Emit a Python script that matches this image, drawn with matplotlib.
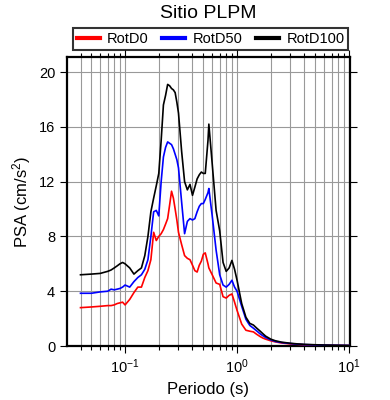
import numpy as np
import matplotlib
matplotlib.use("Agg")
import matplotlib.pyplot as plt
from matplotlib.ticker import LogLocator, MultipleLocator, NullFormatter

plt.rcParams['font.family'] = ['Liberation Sans', 'DejaVu Sans']
plt.rcParams['mathtext.fontset'] = 'custom'
plt.rcParams['mathtext.rm'] = 'Liberation Sans'
plt.rcParams['mathtext.it'] = 'Liberation Sans'

# periods (s)
periodo = [0.04, 0.05, 0.06, 0.07, 0.075, 0.08, 0.085, 0.09, 0.095, 0.10,
           0.11, 0.12, 0.13, 0.14, 0.15, 0.16, 0.17, 0.18, 0.19, 0.20,
           0.21, 0.22, 0.23, 0.24, 0.25, 0.26, 0.27, 0.28, 0.29, 0.30,
           0.32, 0.34, 0.36, 0.38, 0.40, 0.42, 0.44, 0.46, 0.48, 0.50,
           0.52, 0.55, 0.56, 0.60, 0.65, 0.70, 0.75, 0.80, 0.85, 0.90,
           0.95, 1.0, 1.1, 1.2, 1.3, 1.4, 1.5, 1.6, 1.7, 1.8,
           2.0, 2.2, 2.5, 3.0, 3.5, 4.0, 5.0, 6.0, 7.0, 8.0,
           9.0, 10.0]

rotd0 = [2.8, 2.85, 2.9, 2.95, 2.95, 3.0, 3.1, 3.15, 3.2, 3.0,
         3.4, 3.9, 4.3, 4.3, 5.0, 5.5, 6.3, 8.3, 7.7, 8.0,
         8.2, 8.5, 8.9, 9.3, 10.3, 11.3, 10.8, 10.0, 9.2, 8.3,
         7.4, 6.6, 6.4, 6.3, 5.9, 5.5, 5.4, 5.9, 6.2, 6.7,
         6.8, 6.0, 5.7, 5.2, 4.6, 4.5, 3.6, 3.5, 3.7, 3.8,
         3.2, 2.6, 1.6, 1.15, 1.08, 1.03, 0.85, 0.7, 0.58, 0.5,
         0.38, 0.3, 0.22, 0.15, 0.12, 0.09, 0.07, 0.05, 0.045, 0.04,
         0.035, 0.03]

rotd50 = [3.85, 3.85, 3.95, 4.0, 4.15, 4.1, 4.15, 4.2, 4.3, 4.45,
          4.3, 4.7, 5.0, 5.2, 5.6, 6.3, 8.0, 9.8, 9.9, 9.5,
          12.0, 13.8, 14.5, 14.9, 14.8, 14.7, 14.4, 14.0, 13.6, 13.0,
          10.5, 8.2, 9.1, 9.3, 9.2, 9.3, 9.8, 10.2, 10.4, 10.4,
          10.7, 11.2, 11.5, 9.5, 7.0, 5.2, 4.45, 4.3, 4.5, 4.8,
          4.3, 4.0, 2.9, 1.95, 1.5, 1.3, 1.1, 0.9, 0.75, 0.62,
          0.45, 0.33, 0.25, 0.18, 0.13, 0.1, 0.08, 0.06, 0.05, 0.045,
          0.04, 0.035]

rotd100 = [5.2, 5.25, 5.3, 5.45, 5.55, 5.7, 5.85, 6.0, 6.1, 6.0,
           5.7, 5.25, 5.5, 5.7, 6.6, 8.0, 9.8, 10.8, 11.7, 12.6,
           15.0, 17.6, 18.3, 19.1, 19.0, 18.8, 18.7, 18.5, 17.8, 17.0,
           14.2, 12.0, 11.4, 11.8, 11.0, 11.6, 12.2, 12.5, 12.7, 12.6,
           12.6, 15.0, 16.2, 13.3, 9.9, 8.4, 6.1, 5.45, 5.7, 6.25,
           5.6, 4.8, 3.1, 2.1, 1.65, 1.53, 1.3, 1.1, 0.9, 0.72,
           0.5, 0.38, 0.28, 0.2, 0.15, 0.12, 0.09, 0.07, 0.06, 0.05,
           0.045, 0.04]

fig = plt.figure(figsize=(3.9, 4.0), dpi=100)
ax = fig.add_axes([67/390, 54/400, 283/390, 289/400])

ax.plot(periodo, rotd0, color='red', lw=1.2, label='RotD0', zorder=3)
ax.plot(periodo, rotd50, color='blue', lw=1.2, label='RotD50', zorder=4)
ax.plot(periodo, rotd100, color='black', lw=1.2, label='RotD100', zorder=5)

ax.set_xscale('log')
ax.set_xlim(0.0303, 10.2)
ax.set_ylim(0, 21.1)
ax.xaxis.set_major_locator(LogLocator(base=10))
ax.xaxis.set_minor_locator(LogLocator(base=10, subs=np.arange(2, 10)))
ax.xaxis.set_minor_formatter(NullFormatter())
ax.yaxis.set_major_locator(MultipleLocator(4))

ax.grid(True, which='both', axis='x', color='#999999', lw=0.8)
ax.grid(True, which='major', axis='y', color='#999999', lw=0.8)
ax.set_axisbelow(True)

for s in ax.spines.values():
    s.set_linewidth(1.6)
ax.tick_params(which='both', direction='out', top=True, right=True,
               labelsize=10.5, width=0.8)
ax.tick_params(which='major', length=5)
ax.tick_params(which='minor', length=3)

ax.set_xlabel('Periodo (s)', fontsize=12)
ax.set_ylabel('PSA (cm/s$^2$)', fontsize=12)
fig.text(208/390, 1 - 13/400, 'Sitio PLPM', ha='center', va='center', fontsize=14)

leg = fig.legend(loc='center', ncol=3,
                 bbox_to_anchor=(210.5/390, 1 - 39/400),
                 fontsize=10.5, frameon=True, fancybox=False, handlelength=1.6,
                 borderaxespad=0, borderpad=0.25, columnspacing=0.9,
                 handletextpad=0.5)
leg.get_frame().set_edgecolor('black')
leg.get_frame().set_linewidth(1.5)
for h in leg.legend_handles:
    h.set_linewidth(3)

fig.savefig('out.png', dpi=100)
